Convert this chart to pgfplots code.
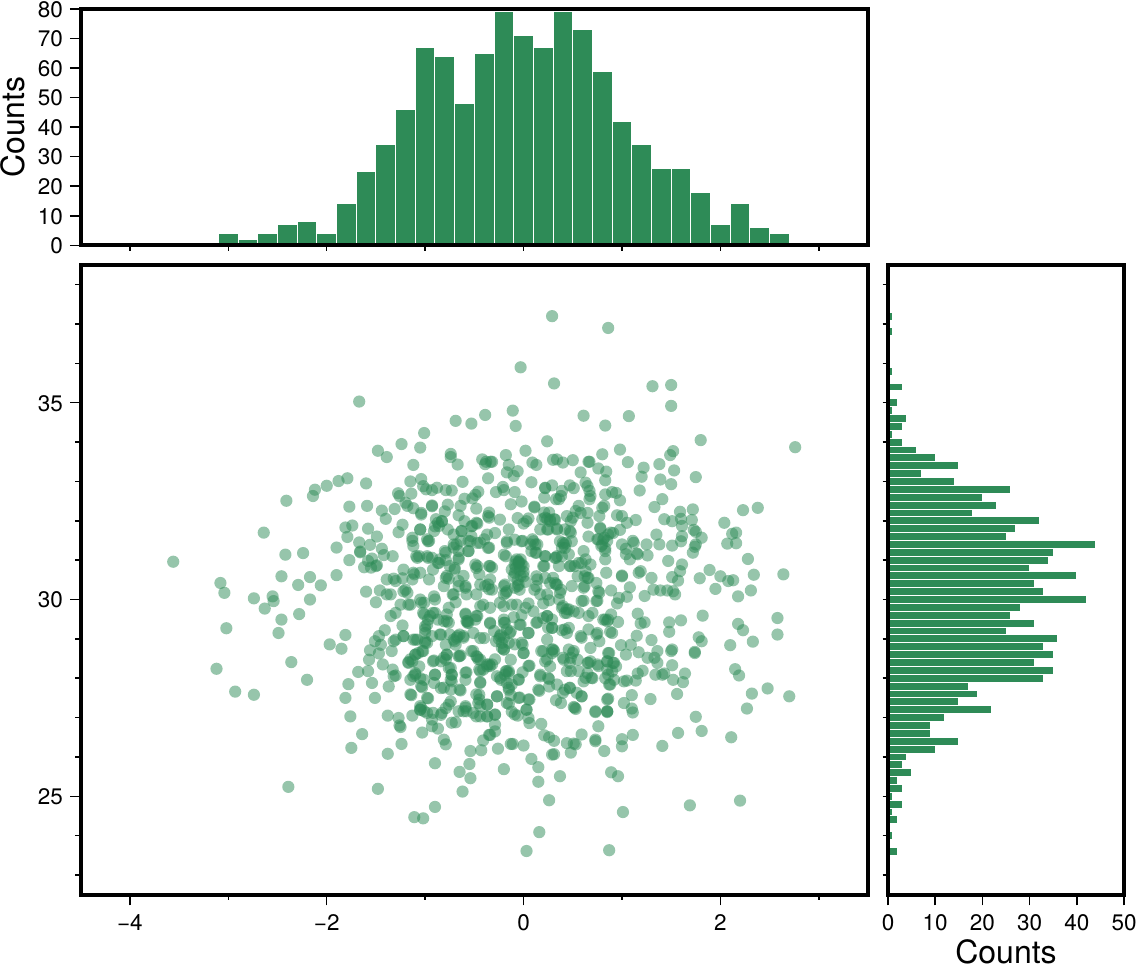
\documentclass[border=0pt]{standalone}
\usepackage{fontspec}
\setmainfont{TeX Gyre Heros}
\usepackage{pgfplots}
\pgfplotsset{compat=1.18}
\definecolor{seagreen}{HTML}{2E8B57}
\pgfplotsset{
  every axis/.append style={
    scale only axis, axis on top,
    axis line style={black, line width=4pt},
    tick align=outside, xtick pos=bottom, ytick pos=left,
    tick style={black, line width=1.5pt},
    major tick length=10.7pt, minor tick length=5.3pt,
    tick label style={font=\fontsize{22.5}{26}\selectfont, inner sep=0pt},
    label style={font=\fontsize{32}{38}\selectfont, inner sep=0pt},
    /pgf/number format/assume math mode=true,
  },
  hist/.style={fill=seagreen, draw=white, line width=1pt},
}
\begin{document}
\begin{tikzpicture}
\useasboundingbox (0,0) rectangle (1136pt,966pt);
% top histogram
\begin{axis}[
  at={(80.7pt,720.7pt)}, anchor=south west, width=787.3pt, height=236.3pt,
  xmin=-4.5, xmax=3.5, ymin=0, ymax=80,
  xtick={-5}, xticklabels={}, minor xtick={-4,-3,...,3},
  ytick={0,10,...,80}, yticklabel style={xshift=-7pt, yshift=-0.5pt},
  ylabel={Counts},
  ylabel style={at={(axis description cs:-0.086,0.5)}, anchor=center},
]
\addplot[ybar interval, hist] coordinates {
(-3.7,1)(-3.5,1)(-3.3,0)(-3.1,4)(-2.9,2)(-2.7,4)(-2.5,7)(-2.3,8)(-2.1,4)(-1.9,14)
(-1.7,25)(-1.5,34)(-1.3,46)(-1.1,67)(-0.9,64)(-0.7,48)(-0.5,65)(-0.3,79)(-0.1,71)
(0.1,67)(0.3,79)(0.5,73)(0.7,59)(0.9,42)(1.1,34)(1.3,26)(1.5,26)(1.7,18)(1.9,7)
(2.1,14)(2.3,6)(2.5,4)(2.7,1)(2.9,0)};
\end{axis}
% right histogram
\begin{axis}[
  at={(888pt,71.3pt)}, anchor=south west, width=236pt, height=629.7pt,
  xmin=0, xmax=50, ymin=22.5, ymax=38.5,
  ytick={22}, yticklabels={}, minor ytick={23,24,...,38},
  xtick={0,10,...,50}, xticklabel style={yshift=-8.5pt},
  xlabel={Counts},
  xlabel style={at={(axis description cs:0.5,-0.091)}, anchor=center},
]
\addplot[xbar interval, hist] coordinates {
(2,23.5)(0,23.7)(1,23.9)(0,24.1)(2,24.3)(1,24.5)(3,24.7)(1,24.9)(3,25.1)(2,25.3)(5,25.5)
(3,25.7)(4,25.9)(10,26.1)(15,26.3)(9,26.5)(9,26.7)(12,26.9)(22,27.1)(15,27.3)(19,27.5)
(17,27.7)(33,27.9)(35,28.1)(31,28.3)(35,28.5)(33,28.7)(36,28.9)(25,29.1)(31,29.3)(26,29.5)
(28,29.7)(42,29.9)(33,30.1)(31,30.3)(40,30.5)(30,30.7)(34,30.9)(35,31.1)(44,31.3)(25,31.5)
(27,31.7)(32,31.9)(18,32.1)(23,32.3)(20,32.5)(26,32.7)(14,32.9)(7,33.1)(15,33.3)(10,33.5)
(6,33.7)(3,33.9)(1,34.1)(3,34.3)(4,34.5)(1,34.7)(2,34.9)(0,35.1)(3,35.3)(0,35.5)(1,35.7)
(0,35.9)(0,36.1)(0,36.3)(0,36.5)(1,36.7)(0,36.9)(1,37.1)(0,37.3)};
\end{axis}
% scatter
\begin{axis}[
  at={(80.7pt,71.3pt)}, anchor=south west, width=787.3pt, height=629.7pt,
  xmin=-4.5, xmax=3.5, ymin=22.5, ymax=38.5,
  xtick={-4,-2,0,2}, xticklabels={−4,−2,0,2}, minor xtick={-3,-1,1,3},
  ytick={25,30,35}, minor ytick={23,24,26,27,28,29,31,32,33,34,36,37,38},
  xticklabel style={yshift=-8.5pt}, yticklabel style={xshift=-7pt, yshift=-0.5pt},
]
\addplot[only marks, mark=*, mark size=6.1pt,
  mark options={draw opacity=0, line width=0pt, fill=seagreen, fill opacity=0.5}] coordinates {
(-3.56,30.96)(-1.67,35.03)(-0.69,34.54)(-0.53,34.47)(-0.39,34.69)(-1.01,34.23)(-1.24,33.95)
(-1.05,33.86)(-1.48,33.78)(-1.39,33.62)(-0.74,33.70)(-0.74,33.62)(-0.67,33.43)(-1.12,33.42)
(-0.42,33.56)(-0.38,33.50)(-0.39,33.44)(-1.79,33.08)(-1.88,33.01)(-2.0,32.89)(-2.12,32.79)
(-2.14,32.63)(-2.41,32.51)(-1.60,32.95)(-1.15,33.0)(-1.04,33.06)(-1.02,32.88)(-0.99,32.8)
(-0.93,32.78)(-0.88,32.84)(-0.79,32.78)(-0.73,32.77)(-0.62,32.99)(-0.36,33.08)(-1.275,32.7)
(-1.26,32.63)(-1.14,32.69)(-1.2,32.46)(-1.18,32.38)(-1.77,32.36)(-1.59,32.38)(-1.44,32.26)
(-1.31,32.3)(-1.40,32.05)(-0.93,32.39)(-0.93,32.37)(-0.77,32.41)(-0.80,32.24)(-1.04,32.2)
(-1.04,32.16)(-1.12,32.32)(-0.66,32.14)(-0.64,32.38)(-0.60,32.56)(-0.52,32.57)(-0.49,32.66)
(-0.46,32.74)(-0.48,32.31)(-0.35,32.21)(-0.35,32.08)(-0.60,31.99)(-0.52,31.87)(-0.47,31.93)
(-0.89,32.04)(-0.83,31.99)(-0.86,31.87)(-0.91,31.74)(-1.81,31.83)(-1.74,31.88)(-1.58,31.8)
(-1.23,31.9)(-1.27,31.71)(-1.49,31.6)(-1.79,31.59)(-2.64,31.7)(-1.67,31.45)(-1.56,31.39)
(-1.9,31.32)(-1.66,31.22)(-1.66,31.2)(-1.44,31.29)(-1.42,31.13)(-1.33,31.1)(-2.42,31.14)
(-2.24,31.18)(-1.77,31.0)(-1.58,30.98)(-1.62,30.82)(-1.54,31.04)(-1.55,30.81)(-1.50,30.85)
(-1.49,30.87)(-2.46,30.59)(-3.08,30.42)(-3.04,30.17)(-2.29,30.37)(-2.17,30.57)(-2.06,30.36)
(-1.90,30.62)(-2.74,30.03)(-2.55,30.08)(-2.54,29.96)(-2.17,30.0)(-1.60,30.2)(-1.46,30.23)
(-1.39,30.13)(-1.35,30.13)(-1.39,30.51)(-1.32,30.53)(-1.30,30.47)(-1.23,30.54)(-1.22,30.76)
(-1.13,30.51)(-1.12,30.68)(-1.11,30.64)(-1.05,30.68)(-0.96,30.51)(-1.22,30.21)(-1.18,30.17)
(-1.2,30.25)(-1.05,30.0)(-0.91,30.08)(-0.81,30.34)(-0.79,30.55)(-0.76,30.53)(-0.78,30.6)
(-0.72,30.13)(-0.58,30.13)(-0.59,30.3)(-0.48,30.13)(-0.61,30.6)(-0.66,30.47)(-0.45,30.64)
(-0.49,30.89)(-0.47,30.85)(-0.35,30.85)(-0.39,30.34)(-0.35,30.26)(-0.70,30.8)(-0.79,31.0)
(-0.86,30.93)(-0.93,31.06)(-0.98,31.1)(-1.06,31.1)(-1.08,31.06)(-1.13,31.57)(-1.13,31.49)
(-1.12,31.36)(-0.98,31.53)(-0.96,31.49)(-1.05,31.78)(-0.77,31.78)(-0.71,31.65)(-0.63,31.74)
(-0.53,31.61)(-0.56,31.49)(-0.64,31.49)(-0.68,31.4)(-0.71,31.32)(-0.79,31.19)(-0.66,31.23)
(-0.56,31.23)(-0.47,31.44)(-0.40,31.53)(-0.35,31.32)
(0.29,37.2)(0.86,36.9)(-0.03,35.9)(0.31,35.49)(1.31,35.42)(1.50,35.45)(1.50,34.92)(-0.11,34.8)
(-0.08,34.41)(0.61,34.67)(0.83,34.42)(1.07,34.66)(0.24,34.02)(1.80,34.05)(2.76,33.87)(0.98,33.81)
(0.02,33.78)(-0.18,33.67)(0.80,33.69)(1.49,33.67)(1.52,33.77)(0.30,33.55)(0.34,33.56)(0.40,33.48)
(0.50,33.54)(0.66,33.5)(0.67,33.5)(0.09,33.48)(0.13,33.42)(-0.32,33.5)(-0.335,33.5)(-0.15,33.42)
(-0.17,33.23)(-0.06,33.26)(-0.10,33.14)(1.06,33.49)(1.38,33.44)(1.22,33.35)(1.20,33.12)(1.53,33.28)
(1.75,33.11)(1.39,33.05)(1.50,32.93)(0.58,33.23)(0.76,33.33)(0.84,33.25)(0.83,33.03)(0.08,32.98)
(0.63,32.97)(0.65,32.88)(0.22,32.84)(0.29,32.9)(0.22,32.83)(0.47,32.9)(0.51,32.83)(0.39,32.76)
(0.38,32.63)(0.33,32.55)(0.36,32.55)(-0.21,32.86)(-0.20,32.78)(-0.28,32.73)(-0.09,32.73)(1.18,32.77)
(1.41,32.55)(1.33,32.35)(0.83,32.67)(0.94,32.71)(0.90,32.73)(0.98,32.52)(0.67,32.76)(0.68,32.63)
(0.67,32.55)(0.21,32.59)(-0.02,32.49)(-0.13,32.42)(0.11,32.36)(0.11,32.34)(0.82,32.38)(0.80,32.33)
(0.56,32.38)(0.53,32.25)(0.58,32.2)(0.50,32.08)(0.44,32.12)(0.48,31.99)(0.65,32.2)(0.65,31.95)
(0.77,32.12)(0.21,32.21)(0.26,32.21)(0.24,32.05)(0.31,32.04)(0.19,32.04)(0.27,31.99)(0.34,31.8)
(0.24,31.78)(0.17,31.78)(0.05,32.06)(0,31.93)(-0.06,32.07)(1.72,32.29)(1.59,32.23)(1.60,32.05)
(1.43,32.04)(1.51,31.99)(1.71,32.02)(1.61,31.87)(1.73,31.77)(1.75,31.72)(1.81,31.57)(1.61,31.61)
(1.60,31.48)(2.23,32.27)(2.38,32.33)(2.04,31.95)(2.12,31.67)(2.16,31.7)(2.07,31.42)(2.16,31.43)
(2.28,31.03)(2.34,30.63)(2.64,30.64)(1.89,30.75)(2.0,30.59)(2.08,30.47)(2.13,30.49)(1.95,30.27)
(1.79,30.54)(2.31,30.23)(2.18,30.08)(1.75,31.4)(1.74,31.34)(1.72,31.19)(1.51,31.37)(1.38,31.4)
(1.35,31.65)(1.47,30.98)(1.61,30.89)(1.59,30.72)(1.51,30.57)(1.57,30.48)(1.30,30.55)(1.17,30.68)
(1.19,30.72)(1.0,30.61)(1.0,30.59)(1.08,30.31)(1.32,30.25)(1.39,30.23)(1.46,30.23)(1.52,30.21)
(1.54,30.13)(0.89,30.23)(0.76,30.21)(0.84,30.68)(1.23,30.09)(1.05,30.07)(0.97,30.04)(1.25,31.4)
(1.26,31.12)(1.16,31.15)(1.11,31.49)(1.12,31.44)(1.04,31.29)(1.04,31.15)(1.08,31.02)(1.0,31.4)
(1.15,31.17)(1.14,32.02)(1.05,31.95)(1.0,32.12)(0.95,32.14)(0.98,31.77)(0.885,31.7)(0.78,31.8)
(0.75,31.53)(0.82,31.57)(0.80,31.4)(0.66,31.6)(0.83,31.02)(0.85,31.49)(0.83,31.3)(0.76,31.53)
(0.41,31.4)(0.39,31.32)(0.43,31.44)(0.48,31.7)(0.39,31.1)(0.33,31.06)(0.34,31.1)(0.46,31.15)
(0.36,30.85)(0.48,30.85)(0.56,30.93)(0.63,31.02)(0.68,30.89)(0.63,30.72)(0.65,30.55)(0.55,30.59)
(0.61,30.3)(0.77,30.17)(0.38,30.25)(0.33,30.38)(0.24,30.13)(0.11,30.25)(0.14,30.51)(0.0,30.59)
(-0.05,30.93)(-0.08,30.97)(-0.03,31.02)(-0.1,30.59)(-0.2,30.34)(-0.18,30.17)(-0.06,30.34)
(-0.32,30.81)(-0.18,31.1)(-0.17,31.44)(0.09,31.53)(0.14,31.4)(0.12,31.19)(0.07,31.4)(-0.01,31.49)
(0.22,31.1)(0.21,30.85)
(-2.63,29.77)(-2.46,29.49)(-2.28,29.63)(-3.02,29.27)(-2.49,29.15)(-1.81,29.1)(-1.97,28.86)(-1.85,28.75)
(-3.12,28.24)(-2.36,28.41)(-2.2,27.96)(-2.93,27.66)(-2.74,27.58)(-1.68,28.16)(-1.78,27.85)(-1.81,27.5)
(-1.76,27.03)(-1.64,26.58)(-1.75,26.23)(-1.38,26.08)(-1.24,26.33)(-1.38,27.05)(-1.27,26.99)(-1.26,26.8)
(-1.25,26.76)(-1.13,27.05)(-1.03,26.62)(-0.93,26.78)(-0.87,26.72)(-0.93,26.95)(-0.84,27.07)(-0.81,26.44)
(-0.79,26.32)(-0.69,26.88)(-0.9,25.84)(-0.54,26.15)(-0.43,26.17)(-0.55,25.82)(-0.65,25.62)(-0.54,25.46)
(-0.62,25.12)(-2.39,25.24)(-1.48,25.19)(-0.9,24.73)(-1.11,24.47)(-1.02,24.44)(-0.41,26.42)(-0.35,26.56)
(-1.14,27.57)(-0.97,27.49)(-1.51,27.5)(-1.37,27.79)(-1.54,27.88)(-1.58,28.18)(-1.43,28.35)(-1.33,28.22)
(-1.32,28.05)(-1.30,28.07)(-1.57,28.47)(-1.56,28.71)(-1.47,28.63)(-1.34,28.69)(-1.45,28.85)(-1.51,28.94)
(-1.47,29.07)(-1.41,29.22)(-1.32,28.94)(-1.30,28.98)(-1.35,29.58)(-1.30,29.66)(-1.23,29.34)(-1.22,29.07)
(-1.25,29.87)(-1.17,29.87)(-1.12,28.98)(-1.08,28.98)(-1.5,29.93)(-1.01,29.62)(-1.01,29.92)(-0.9,30)
(-0.9,29.66)(-0.95,29.58)(-0.81,29.45)(-0.76,29.41)(-0.78,29.62)(-0.76,29.79)(-0.69,29.93)(-0.59,29.64)
(-0.57,29.45)(-0.57,29.41)(-0.47,29.58)(-0.49,29.49)(-0.34,29.39)(-1.0,29.32)(-1.0,29.15)(-0.93,29.07)
(-0.84,29.11)(-1.0,28.9)(-1.03,28.69)(-1.10,28.6)(-1.13,28.43)(-1.17,28.41)(-1.06,28.3)(-0.79,28.85)
(-0.69,28.85)(-0.71,28.98)(-0.67,29.07)(-0.61,29.07)(-0.51,29.15)(-0.44,29.02)(-0.40,29.02)(-0.91,28.45)
(-0.84,28.43)(-0.78,28.6)(-0.79,28.47)(-0.64,28.58)(-0.51,28.69)(-0.47,28.54)(-0.44,28.47)(-0.35,28.35)
(-0.37,28.3)(-0.45,28.22)(-1.1,28.13)(-1.15,27.96)(-1.12,28.05)(-1.01,27.96)(-1.03,27.77)(-0.9,28.09)
(-0.91,27.88)(-0.84,27.75)(-0.74,27.96)(-0.73,28.09)(-0.74,28.26)(-0.74,27.71)(-0.59,27.96)(-0.58,28.15)
(-0.64,27.69)(-0.44,27.9)(-0.45,27.58)(-0.45,27.46)(-0.37,27.33)(-0.44,27.29)(-0.74,27.41)(-0.79,27.24)
(-0.59,27.29)(-0.66,27.16)(-0.61,27.16)(-0.51,27.12)(-0.44,27.03)(-0.37,27.03)(-1.05,27.29)(-1.05,27.2)
(-1.01,27.16)(-0.98,27.12)
(2.2,24.89)(1.69,24.77)(1.01,24.6)(0.26,24.9)(0.16,24.09)(0.03,23.61)(0.87,23.63)(0.15,25.37)(0.37,25.51)
(-0.2,25.69)(0.15,25.74)(0.08,25.95)(0.89,25.61)(0.96,25.51)(1.41,26.28)(1.57,26.61)(1.75,27.02)(1.81,26.66)
(2.11,26.5)(2.27,27.23)(2.32,27.61)(2.48,27.74)(2.70,27.54)(2.19,28.07)(2.15,28.23)(1.56,27.6)(1.29,27.47)
(1.1,27.57)(1.02,27.37)(1.10,27.23)(1.11,27.13)(0.86,27.48)(0.73,27.14)(0.85,27.16)(0.85,27.14)(0.76,26.78)
(0.82,26.15)(0.73,26.44)(0.73,26.4)(0.59,26.57)(0.44,26.35)(0.51,26.34)(0.53,26.32)(0.48,26.11)(1.0,26.45)
(1.0,26.27)(1.11,26.56)(0.29,26.06)(0.31,26.07)(0.21,26.55)(0.26,26.5)(0.31,26.41)(0.18,26.84)(0.06,26.86)
(0.03,27.2)(0.05,26.99)(-0.06,27.05)(-0.12,27.15)(-0.15,27.35)(0.06,27.46)(-0.04,27.51)(-0.13,27.57)
(-0.27,27.54)(-0.29,27.07)(-0.29,26.82)(-0.29,26.65)(-0.34,26.56)(-0.26,26.21)(-0.13,26.33)(-0.11,26.33)
(0,26.29)(0.33,27.44)(0.38,27.37)(0.42,27.71)(0.47,27.75)(0.54,27.63)(0.59,27.54)(0.51,27.27)(0.53,27.22)
(0.16,27.68)(0.26,27.98)(0.17,28.09)(0.26,27.79)(-0.01,28.15)(-0.05,27.96)(-0.18,28.18)(-0.15,28.13)
(-0.23,27.96)(-0.17,27.88)(-0.15,27.71)(0.06,28.32)(0,28.64)(-0.01,28.85)(0.05,29.15)(-0.03,29.36)
(-0.2,29.41)(-0.13,29.19)(-0.23,29.11)(-0.22,28.9)(-0.2,28.73)(-0.28,28.94)(-0.13,28.47)(-0.32,28.35)
(-0.27,28.05)(0.14,29.42)(0.24,29.58)(0.29,29.28)(0.39,29.22)(0.44,29.66)(0.46,29.28)(0.44,29.75)(0.58,29.07)
(0.66,29.24)(0.75,29.15)(0.77,28.94)(0.68,28.77)(0.51,29.7)(0.56,29.66)(0.66,29.58)(0.70,29.66)(0.83,29.49)
(0.85,29.45)(0.89,29.62)(0.96,29.43)(0.88,29.18)(0.26,29.98)(0.36,30.0)(0.39,29.79)(0.61,29.97)(0.75,29.97)
(0.95,29.9)(1.16,29.64)(1.23,29.42)(1.19,29.39)(1.15,29.08)(1.6,29.47)(1.48,29.42)(1.48,29.18)(1.82,29.59)
(1.30,28.97)(0.99,28.84)(1.09,28.85)(1.04,28.6)(1.17,28.66)(1.26,28.52)(1.36,28.69)(1.33,28.52)(1.36,28.39)
(1.51,28.73)(1.50,28.69)(1.51,28.33)(1.34,28.09)(1.41,28.09)(1.43,28.12)(1.21,28.19)(1.16,28.12)(1.14,27.94)
(1.05,27.94)(1.02,27.92)(1.52,27.96)(1.62,27.9)(1.64,28.12)(1.78,29.04)(1.81,28.94)(1.74,28.67)(1.74,28.64)
(2.10,28.84)(2.33,28.93)(2.18,29.38)(2.23,29.22)(2.58,29.53)(2.58,29.11)(0.87,28.64)(0.85,28.43)(0.92,28.39)
(0.94,28.3)(0.85,28.22)(0.90,28.18)(0.83,28.0)(0.92,27.96)(0.87,27.84)(0.68,28.43)(0.65,28.39)(0.75,28.35)
(0.65,28.13)(0.61,27.92)(0.70,28.0)(0.2,28.69)(0.29,28.73)(0.31,28.69)(0.46,28.73)(0.5,28.64)(0.41,28.47)
(0.48,28.52)(0.55,28.47)(0.48,28.18)(0.56,28.18)(0.27,28.3)(0.22,28.43)
(-0.07,31.02)(-0.09,30.89)(-0.04,30.85)(-0.05,30.97)(-0.12,30.76)(0,30.85)(-0.09,30.68)(-0.19,30.38)
(-0.17,30.21)(-0.20,30.13)(-0.05,30.38)(-0.09,30.30)(-0.04,30.25)(-0.34,30.85)(-0.48,30.8)
(-0.17,31.48)(-0.2,31.14)(-0.36,31.31)(-0.29,31.69)(-0.37,31.65)(-0.44,31.44)(-0.54,31.48)(-0.56,31.23)
(-0.66,31.06)(-0.71,31.4)(-0.80,31.23)(-0.85,31.02)(-0.97,31.06)(-1.09,31.1)(-0.97,31.48)(-1.05,31.78)
(-0.87,31.95)(-0.9,31.86)(-0.83,31.99)(-0.63,31.74)(-0.53,31.86)(-0.48,31.95)(-0.36,32.12)(-0.24,32.03)
(-0.15,31.78)(0.03,31.99)(0.10,31.48)(0.12,31.4)(0.08,31.23)(0.13,31.19)(-0.02,31.48)(-0.09,31.52)
(0.22,31.1)(0.32,31.06)(0.40,31.44)(0.42,31.31)(0.37,31.48)(0.49,31.48)(0.22,32.08)(0.27,32.03)
(0.32,32.03)(0.25,31.78)(0.34,31.78)(0.47,31.74)(0.78,31.82)(0.81,31.53)(0.79,31.36)(0.86,31.65)
(0.91,31.69)(0.83,31.23)(0.61,31.23)(0.59,30.93)(0.52,30.85)(0.62,30.59)(0.66,30.55)(0.74,30.42)
(0.62,30.34)(0.34,30.38)(0.37,30.17)(0.32,30.42)(0.27,30.42)(0.13,30.34)(0.17,30.13)(0.49,30.34)
(0.47,30.85)(0.30,30.55)(0.22,30.55)(0.2,30.85)(0.13,30.59)(0.42,31.78)(-0.70,30.76)(-0.59,30.34)
(-0.66,30.34)(-0.44,30.38)(-0.34,30.51)(-0.32,30.25)(-0.36,30.38)(-0.71,30.13)(-0.87,30.93)(-0.75,30.85)
(-0.66,31.02)(-0.92,30.76)
(-0.44,29.83)(-0.41,29.87)(-0.34,29.79)(-0.2,29.83)(-0.12,29.87)(-0.07,29.87)(0.02,29.79)(-0.24,29.92)
(0.40,29.83)(0.46,29.75)(0.42,29.66)(0.59,29.96)(0.74,29.96)(0.24,29.58)(0.2,29.53)(0.29,29.49)
(0.13,29.41)(-0.2,29.49)(-0.19,29.41)(-0.04,29.36)(-0.17,29.24)(0.05,29.15)(-0.24,29.07)(-0.2,29.03)
(-0.14,29.15)(-0.15,28.9)(-0.09,28.86)(-0.02,28.9)(-0.22,28.77)(-0.2,28.73)(0,28.64)(-0.58,29.45)
(-0.56,29.41)(-0.59,29.62)(-0.48,29.58)(-0.34,29.41)(-0.78,29.45)(-0.87,29.49)(-0.92,29.66)(-0.97,29.49)
(-1.02,29.66)(-0.98,29.36)(-1.0,29.24)(-1.15,29.87)(-1.04,29.92)(-0.68,29.03)(-0.65,29.11)(-0.61,29.03)
(-0.70,28.94)(-0.75,29.11)(-0.85,29.11)(-1.0,28.94)(-0.98,28.9)(-1.10,28.98)(-1.22,29.07)(-1.10,28.6)
(-1.07,28.64)(-1.15,28.48)(-1.17,28.39)(-1.02,28.69)(-0.78,28.6)(-0.81,28.52)(-0.92,28.43)(-0.65,28.56)
(-0.53,28.69)(-0.48,28.56)(-0.46,28.48)(-0.37,28.35)(-0.34,28.31)(-0.29,28.48)(-0.41,28.22)(-0.44,28.18)
(-0.15,28.18)(-0.17,28.18)(-0.19,28.09)(-0.24,28.01)(-0.05,27.97)(-0.12,27.84)(0.05,28.31)(-0.27,27.54)
(-0.15,27.76)(-0.05,27.5)(0.05,27.46)(-0.17,27.37)(-0.09,27.08)(0.03,27.2)(0.18,28.69)(0.30,28.73)
(0.29,28.64)(0.51,28.69)(0.40,28.52)(0.47,28.39)(0.44,28.18)(0.24,28.48)(0.17,28.05)(0.25,28.01)
(0.15,27.71)(0.34,27.84)(0.40,27.63)(0.47,27.76)(0.52,27.25)(0.59,27.54)(0.63,28.01)(0.69,28.01)
(0.66,28.39)(0.76,28.31)(0.86,28.64)(0.85,28.43)(0.91,28.39)(0.86,28.09)(0.88,27.84)(0.85,27.46)
(0.73,27.16)(0.85,27.16)(0.44,29.15)(0.42,29.24)(0.25,29.28)(0.29,29.28)(0.24,28.98)(0.59,29.03)
(0.74,29.11)(0.86,29.49)(0.81,29.49)(0.90,29.15)(-0.66,28.56)(-0.76,28.26)(-0.73,28.09)(-0.73,27.92)
(-0.81,27.76)(-0.90,28.09)(-1.04,27.8)(-1.15,27.59)(-0.98,27.5)(-1.10,28.09)(-1.05,28.0)(-1.05,27.2)
(-1.04,27.25)(-0.76,27.33)(-0.83,27.12)(-0.92,27.12)(-0.59,27.25)(-0.58,27.16)(-0.48,27.59)(-0.44,27.88)
(-0.59,28.14)(-0.65,27.71)(-0.46,27.37)(-0.37,27.33)(-0.29,27.08)(-0.73,26.87)(-0.37,27.03)(-0.48,27.03)
(-0.05,30.95)(-0.02,30.9)(-0.08,30.8)(0.0,30.7)(-0.03,30.6)(-0.06,30.5)(0.02,30.45)(-0.04,30.75)
(-0.25,29.0)(-0.3,29.2)(0.05,29.9)(-0.1,29.55)(-0.02,29.6)(0.1,29.7)(0.2,29.9)
};
\end{axis}
\end{tikzpicture}
\end{document}
